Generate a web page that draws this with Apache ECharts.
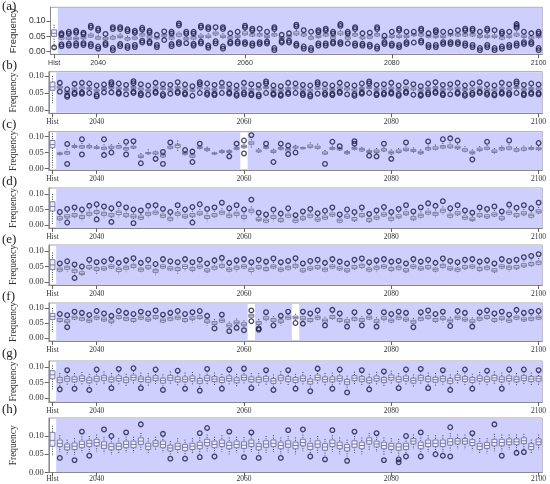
<!DOCTYPE html>
<html><head><meta charset="utf-8">
<script src="https://cdn.jsdelivr.net/npm/echarts@6/dist/echarts.min.js"></script>
<style>html,body{margin:0;padding:0;background:#fff}#c{width:550px;height:484px}</style>
</head><body><div id="c"></div>
<script>
// ---------- categories / ticks ----------
const years = [];
for (let y = 2035; y <= 2100; y++) years.push(String(y));
const categories = ['Hist'].concat(years);
const xTickLabels = ['Hist', '2040', '2060', '2080', '2100'];
const yTickValues = [0, 0.05, 0.10];
const panelLabels = ['(a)', '(b)', '(c)', '(d)', '(e)', '(f)', '(g)', '(h)'];

// ---------- data (thousandths): [lowWhisker, Q1, median, Q3, highWhisker] ----------
const statsA = [[5,50,60,71,88],
[37,41,45,48,52],[36,40,44,48,53],[35,39,43,47,52],[38,42,45,49,53],[43,48,52,57,62],
[36,41,45,49,55],[35,39,42,46,50],[36,41,45,50,55],[41,46,50,54,60],[34,38,42,46,52],
[37,41,45,48,54],[46,51,55,59,64],[40,44,48,52,57],[39,42,45,48,50],[45,49,52,56,59],
[37,41,45,49,54],[45,50,55,60,66],[35,39,42,46,52],[37,41,45,49,54],[42,46,50,54,60],
[41,46,50,54,60],[50,55,60,64,70],[41,46,50,54,60],[38,42,45,49,53],[42,46,50,54,58],
[50,55,60,65,71],[46,51,55,59,64],[46,51,55,59,64],[42,46,50,54,58],[46,51,55,59,65],
[39,42,45,48,50],[43,47,50,53,56],[50,55,60,65,71],[47,51,55,59,63],[37,41,45,49,54],
[42,46,50,54,59],[46,51,55,59,64],[37,41,45,49,54],[50,55,60,65,71],[37,41,45,49,54],
[46,51,55,59,64],[38,42,45,49,53],[40,44,48,52,56],[46,51,55,59,64],[39,42,45,47,49],
[42,46,50,54,58],[42,46,50,54,59],[42,46,50,54,58],[48,52,55,58,61],[46,51,55,59,64],
[43,47,50,53,56],[42,46,50,54,59],[42,46,50,54,58],[48,52,55,58,61],[47,51,55,59,63],
[46,51,55,59,64],[46,51,55,59,64],[42,46,50,54,58],[42,46,50,54,59],[42,46,50,54,59],
[37,41,45,49,54],[42,46,50,54,58],[46,51,55,60,66],[42,46,50,54,58],[38,42,45,49,53],
[42,46,50,54,58]];
const outA = [[14],
[60,55,18,24],[65,59,20,26],[68,62,20,27],[62,57,22,28],[85,79,18,25],
[75,69,10,17],[58,22,28],[80,74,5,12],[80,74,18,25],[73,67,12,19],
[68,62,15,22],[78,72,30,36],[68,62,28,33],[55,15,22],[66,38],
[65,59,18,25],[92,86,25,31],[65,59,28],[65,59,20,26],[85,79,27,33],
[80,74,13,20],[80,27,34],[80,74,10,17],[60,27,32],[65,27,33],
[85,79,25,31],[75,69,20,27],[75,25,31],[65,27,33],[80,74,5,12],
[55,30,35],[60,30,36],[88,82,20,26],[70,10,17],[65,5,12],
[70,64,20,27],[75,69,20,27],[65,59,27,32],[90,84,25,31],[65,59,27],
[80,74,20,27],[60,20,26],[62,17,23],[80,74,10,17],[52,25,31],
[65,20,26],[75,69,15,22],[65,25,31],[65,30],[75,69,30,36],
[60,15,22],[70,64,15,22],[65,25,31],[65,25,31],[70,25,31],
[75,69,20,27],[75,69,15,22],[65,5,12],[75,69,15,22],[70,5,12],
[65,59,10,17],[65,15,22],[90,84,78,20,27],[65,25,31],[60,25,31],
[65,59,5,12]];

const statsB = [[20,58,68,82,100],
[59,64,67,70,74],[45,49,52,55,57],[55,59,62,65,69],[58,62,65,68,72],[56,60,63,66,70],
[51,55,58,61,65],[56,60,63,66,70],[59,63,66,69,73],[57,61,64,67,71],[53,57,60,63,67],
[59,63,66,69,73],[55,59,62,65,69],[51,55,58,61,65],[58,62,65,68,72],[56,60,63,66,70],
[53,57,60,63,67],[59,63,66,69,73],[55,59,62,65,69],[51,55,58,61,65],[58,62,65,68,72],
[55,59,62,65,69],[53,57,60,63,67],[59,63,66,69,73],[56,60,63,66,70],[53,57,60,63,67],
[57,61,64,67,71],[53,57,60,63,67],[55,59,62,65,69],[59,63,66,69,73],[53,57,60,63,67],
[51,55,58,61,65],[56,60,63,66,70],[58,62,65,68,72],[54,58,61,64,68],[51,55,58,61,65],
[57,61,64,67,71],[55,59,62,65,69],[53,57,60,63,67],[58,62,65,68,72],[55,59,62,65,69],
[52,56,59,62,66],[56,60,63,66,70],[59,63,66,69,73],[53,57,60,63,67],[55,59,62,65,69],
[57,61,64,67,71],[53,57,60,63,67],[58,62,65,68,72],[55,59,62,65,69],[51,55,58,61,65],
[56,60,63,66,70],[59,63,66,69,73],[53,57,60,63,67],[55,59,62,65,69],[57,61,64,67,71],
[53,57,60,63,67],[55,59,62,65,69],[58,62,65,68,72],[54,58,61,64,68],[52,56,59,62,66],
[57,61,64,67,71],[55,59,62,65,69],[59,63,66,69,73],[53,57,60,63,67],[56,60,63,66,70],
[55,59,62,65,69]];
const outB = [[],
[80,54],[61,39,43],[77,47,51],[80,48,52],[78,50],
[72,40,45],[75,52],[82,76,52],[78,48,52],[74,46],
[85,79,50,54],[76,44,49],[72,45],[80,50,54],[76,42,47],
[74,48],[82,50,54],[75,46,50],[70,42],[82,76,50],
[78,45,50],[74,44,48],[80,50],[76,48,52],[72,42,47],
[80,46,51],[76,44,48],[74,40,45],[84,78,50],[72,45,49],
[70,42,46],[80,47,51],[78,50],[74,44,49],[72,40,45],
[82,76,48],[76,45,50],[72,44,48],[80,50,54],[75,46],
[72,42,47],[78,48,52],[84,78,50],[74,44,48],[76,46,50],
[80,48,52],[72,42,47],[82,50,54],[76,45],[70,42,46],
[78,46,51],[82,50,54],[74,44,48],[76,46],[80,48,52],
[72,42,47],[78,45,50],[82,50,54],[75,45,50],[72,43,47],
[80,48,52],[76,45,50],[84,78,50],[74,44,48],[78,47,51],
[75,46,50]];

const statsC = [[2,65,75,88,110],
[40,44,47,49,52],[38,45,49,53,62],[62,66,69,72,78],[60,64,68,72,80],[60,65,68,72,78],
[58,63,66,68,74],[50,60,64,67,76],[58,63,67,70,76],[58,64,68,72,80],[52,58,62,66,74],
[60,64,67,70,76],[28,34,38,42,48],[42,46,48,50,60],[40,45,48,52,56],[30,36,40,44,50],
[58,63,67,70,76],[55,66,72,76,88],[38,44,47,50,55],[30,35,39,43,48],[58,63,66,68,72],
[52,56,60,63,68],[42,45,47,49,52],[45,50,53,56,60],[45,50,53,56,60],[55,60,63,66,72],
[60,65,69,73,78],[66,76,80,84,92],[46,52,55,58,64],[60,63,66,69,72],[45,50,54,57,62],
[56,60,63,66,70],[50,55,59,62,66],[60,64,67,70,74],[60,62,64,66,68],[62,66,70,74,82],
[58,63,67,70,78],[40,45,48,52,58],[55,60,63,66,72],[55,58,61,64,68],[40,46,50,53,58],
[55,60,63,66,70],[50,55,59,63,68],[45,50,53,56,62],[46,50,54,58,64],[50,55,58,62,68],
[40,46,50,54,60],[45,50,54,58,64],[50,56,60,64,72],[48,53,57,60,66],[40,46,50,54,60],
[52,58,62,66,72],[55,60,64,68,75],[58,64,68,72,80],[60,65,70,74,82],[55,62,66,70,78],
[48,54,58,62,70],[40,46,50,54,60],[50,56,60,64,70],[55,60,64,67,74],[45,50,54,58,64],
[52,58,62,66,72],[55,60,64,68,76],[48,54,58,62,68],[52,57,61,65,72],[55,60,63,66,72],
[55,59,62,65,70]];
const outC = [[],
[],[77,14],[],[92,44],[],
[],[92,42],[50],[],[84,44],
[86],[16],[],[30],[52,14],
[82],[],[58],[53,20],[78],
[],[],[],[38],[78],
[88,47],[105],[],[78],[20],
[78],[72,45],[50],[],[],
[],[14],[84],[70],[],
[86,78],[],[40],[38],[78],
[30],[],[82],[],[],
[85],[],[92],[95],[88],
[],[28],[],[84],[],
[],[88],[],[],[],
[80]];

const statsD = [[2,45,60,75,100],
[8,17,22,27,34],[15,23,28,33,42],[19,27,32,37,46],[12,21,26,31,40],[22,31,36,41,50],
[27,37,42,47,57],[22,31,36,41,50],[17,27,32,37,46],[25,34,40,45,54],[19,27,32,37,47],
[15,23,28,33,40],[12,19,24,29,36],[22,31,36,41,50],[27,35,40,45,54],[17,25,30,35,44],
[7,15,20,25,32],[22,31,36,41,52],[15,23,28,33,42],[17,27,32,37,46],[25,33,38,43,52],
[12,21,26,31,40],[19,27,32,37,46],[27,35,40,45,54],[17,25,30,35,44],[22,31,36,41,50],
[12,21,26,31,38],[32,41,46,51,60],[7,14,18,23,30],[3,9,14,19,26],[12,21,26,31,38],
[5,11,16,21,28],[17,25,30,35,44],[3,9,14,19,26],[9,17,22,27,34],[17,25,30,35,42],
[5,13,18,23,30],[12,19,24,29,36],[22,29,34,39,47],[3,9,14,19,26],[15,23,28,33,40],
[7,14,19,24,32],[19,27,32,37,46],[5,11,16,21,28],[12,19,24,29,37],[22,29,34,39,48],
[7,15,20,25,32],[15,23,28,33,42],[25,33,38,43,52],[9,17,22,27,34],[17,25,30,35,44],
[27,35,40,45,54],[22,31,36,41,50],[32,41,46,51,60],[17,25,30,35,44],[25,33,38,43,52],
[12,19,24,29,37],[7,14,18,23,30],[19,27,32,37,46],[15,23,28,33,42],[22,29,34,39,48],
[9,17,22,27,34],[27,35,40,45,54],[19,27,32,37,46],[25,33,38,43,52],[17,25,30,35,44],
[32,39,44,49,58]];
const outD = [[],
[42],[52,8],[57],[50],[62],
[67,18],[60],[54,10],[67],[57],
[50,6],[47],[62],[64],[52],
[42],[64],[50],[58,8],[67],
[52],[57],[72],[54],[64],
[50],[82],[40],[34],[50],
[37],[54],[32],[44],[52],
[38],[46],[57],[34],[50],
[42],[57],[36],[47],[58],
[42],[52],[64],[44],[57],
[70],[62],[77],[54],[64],
[47],[40],[57],[52],[60],
[44],[66],[56],[64],[54],
[72]];

const statsE = [[0,40,55,72,95],
[27,35,40,45,53],[32,41,46,51,61],[22,31,36,41,49],[17,24,28,33,41],[35,43,48,53,63],
[27,37,42,47,57],[32,39,44,49,59],[37,45,50,55,65],[25,34,40,45,55],[32,41,46,51,61],
[39,47,52,57,67],[27,35,40,45,55],[35,43,48,53,63],[22,31,36,41,51],[37,45,50,55,65],
[32,39,44,49,59],[27,37,42,47,57],[35,44,50,55,65],[29,37,42,47,57],[37,45,50,55,63],
[25,33,38,43,53],[33,41,46,51,61],[39,47,52,57,67],[27,35,40,45,55],[32,41,46,51,61],
[37,45,50,55,65],[25,34,40,45,55],[35,43,48,53,63],[29,37,42,47,57],[37,45,50,55,65],
[27,35,40,45,55],[33,41,46,51,61],[39,47,52,57,67],[25,33,38,43,53],[32,39,44,49,59],
[35,43,48,53,63],[27,35,40,45,55],[37,45,50,55,65],[31,39,44,49,59],[25,33,38,43,53],
[35,43,48,53,63],[39,47,52,57,67],[27,35,40,45,55],[32,41,46,51,61],[37,45,50,55,65],
[29,37,42,47,57],[33,41,46,51,61],[25,33,38,43,53],[37,45,50,55,65],[31,39,44,49,59],
[35,43,48,53,63],[27,35,40,45,55],[39,47,52,57,67],[32,39,44,49,59],[27,35,40,45,55],
[35,43,48,53,63],[37,45,50,55,65],[29,37,42,47,57],[33,41,46,51,61],[25,33,38,43,53],
[37,45,50,55,65],[32,41,46,51,61],[35,43,48,53,63],[41,49,54,59,69],[45,53,58,63,73],
[49,57,62,67,77]];
const outE = [[],
[60],[67],[57,13],[50],[72],
[64],[67],[74],[62],[70],
[77],[62],[72],[58],[74],
[67],[64],[74],[64],[72],
[60],[70],[78],[62],[70],
[74],[64],[72],[66],[76],
[64],[68],[77],[60],[68],
[72],[62],[74],[66],[60],
[72],[76],[64],[70],[74],
[66],[68],[60],[74],[66],
[72],[62],[76],[68],[64],
[72],[74],[66],[70],[60],
[74],[68],[72],[80],[84],
[90]];

const statsF = [[20,62,72,82,100],
[47,55,60,65,73],[42,51,56,61,69],[55,63,68,73,81],[52,59,64,69,77],[45,53,58,63,71],
[55,63,68,73,83],[49,57,62,67,75],[42,51,56,61,69],[57,65,70,75,83],[52,59,64,69,77],
[47,55,60,65,73],[55,63,68,73,81],[49,57,62,67,75],[57,65,70,75,85],[45,53,58,63,71],
[52,59,64,69,77],[55,63,68,73,81],[47,55,60,65,73],[52,61,66,71,79],[57,65,70,75,83],
[42,51,56,61,69],[37,45,50,55,63],[45,53,58,63,71],[27,37,42,47,55],[39,47,52,57,65],
[32,41,46,51,59],[62,69,74,79,87],[37,45,50,55,63],[52,61,66,71,79],[47,55,60,65,73],
[42,51,56,61,69],[55,63,68,73,81],[57,64,68,73,81],[52,61,66,71,81],[47,55,60,65,73],
[55,63,68,73,83],[45,53,58,63,71],[57,65,70,75,85],[47,55,60,65,73],[42,51,56,61,69],
[52,59,64,69,77],[47,55,60,65,73],[55,63,68,73,81],[42,51,56,61,69],[52,61,66,71,79],
[45,53,58,63,71],[55,63,68,73,81],[49,57,62,67,75],[42,49,54,59,67],[52,59,64,69,77],
[57,65,70,75,83],[47,55,60,65,73],[52,61,66,71,79],[45,53,58,63,71],[55,63,68,73,81],
[49,57,62,67,75],[42,51,56,61,69],[52,59,64,69,77],[57,65,70,75,83],[47,55,60,65,73],
[52,61,66,71,79],[45,53,58,63,71],[55,63,68,73,83],[49,57,62,67,75],[52,59,64,69,77],
[55,63,68,73,81]];
const outF = [[],
[80],[76,36],[88],[84],[77],
[90],[82],[74],[90],[84],
[80],[88],[82],[92],[78],
[84],[90],[80],[86],[90],
[74],[32],[78],[23],[34],
[26],[92,56],[32,28],[86],[42],
[74],[88],[50],[88,48],[82],
[92],[42],[94],[82],[38],
[86],[42],[88],[38],[86],
[80],[88],[84],[36],[86],
[92],[80],[88],[40],[90],
[84],[38],[86],[92],[82],
[88],[78],[94],[84],[88],
[90]];

const statsG = [[25,62,75,88,105],
[36,50,58,66,80],[42,54,62,69,82],[38,52,60,68,80],[44,55,63,71,84],[35,49,57,65,78],
[40,54,62,70,84],[45,57,65,72,86],[40,52,60,67,80],[42,55,63,71,85],[38,50,58,66,78],
[46,58,66,74,88],[40,53,61,68,82],[38,51,59,67,80],[44,56,64,72,85],[34,48,56,64,76],
[44,57,65,73,86],[40,52,60,68,80],[38,52,60,68,82],[42,55,63,71,84],[34,47,55,63,76],
[44,56,64,72,86],[40,53,61,69,82],[38,50,58,66,78],[42,55,63,71,84],[36,49,57,65,78],
[45,58,66,74,88],[40,52,60,68,80],[38,51,59,67,80],[42,54,62,70,82],[34,47,55,63,76],
[44,57,65,73,86],[40,53,61,69,82],[38,50,58,66,78],[42,55,63,71,84],[32,45,53,61,74],
[46,58,66,74,88],[40,52,60,68,80],[38,52,60,68,82],[42,55,63,71,84],[30,44,52,60,72],
[44,56,64,72,85],[40,53,61,69,82],[36,49,57,65,78],[42,55,63,71,84],[38,50,58,66,78],
[46,58,66,74,88],[40,52,60,68,80],[42,55,63,71,84],[35,48,56,64,76],[44,57,65,73,86],
[40,53,61,69,82],[38,51,59,67,80],[42,54,62,70,82],[34,47,55,63,76],[46,58,66,74,88],
[40,53,61,69,82],[38,50,58,66,78],[42,55,63,71,84],[40,52,60,68,80],[44,57,65,73,86],
[38,52,60,68,82],[42,55,63,71,84],[40,52,60,68,80],[44,56,64,72,85],[40,53,61,69,82],
[42,54,62,70,82]];
const outG = [[],
[28],[90],[30],[],[26],
[92],[],[32],[94],[],
[96],[32],[],[92],[26],
[],[88],[30],[],[24],
[94],[],[30],[92],[],
[95],[32],[],[90],[26],
[],[90],[30],[],[22],
[95],[],[30],[92],[18],
[],[90],[28],[],[86],
[],[32],[92],[],[94],
[32],[],[90],[26],[],
[92],[30],[],[88],[],
[30],[92],[],[92],[],
[90]];

const statsH = [[45,72,88,110,128],
[56,71,80,89,102],[48,62,70,78,90],[48,63,72,81,94],[54,68,77,86,99],[56,71,80,88,100],
[58,73,82,91,104],[52,66,75,84,97],[48,62,71,79,92],[50,63,72,80,94],[54,68,77,86,98],
[54,68,77,86,98],[62,77,86,95,108],[50,63,72,80,94],[60,72,80,87,98],[54,68,77,86,98],
[46,59,67,75,86],[50,63,72,80,94],[46,60,69,77,90],[50,63,72,80,94],[50,65,74,83,96],
[58,73,82,91,104],[54,68,77,86,98],[56,71,80,89,102],[50,65,74,83,96],[54,68,77,86,98],
[52,66,75,84,97],[56,71,80,89,102],[48,62,71,79,92],[54,69,78,87,100],[56,71,80,89,102],
[50,65,74,83,96],[54,69,78,87,100],[50,65,74,83,96],[58,73,82,91,104],[50,63,72,80,94],
[54,69,78,87,100],[46,61,70,79,92],[56,71,80,89,102],[50,65,74,83,96],[44,59,68,77,90],
[54,69,78,87,100],[50,65,74,83,96],[62,78,87,95,108],[56,70,78,86,98],[48,65,74,83,96],
[50,63,72,80,94],[46,61,70,79,92],[50,63,72,80,94],[64,78,86,93,104],[50,65,74,83,96],
[56,71,80,89,102],[56,71,80,89,102],[56,71,80,89,102],[60,75,84,93,108],[64,78,86,93,104],
[64,78,86,93,104],[60,74,82,90,100],[50,63,72,80,94],[52,66,74,82,94],[58,73,82,91,106],
[58,73,82,91,104],[62,76,84,92,104],[62,76,84,92,104],[64,79,87,95,106],[50,63,71,79,90],
[62,76,84,92,104]];
const outH = [[],
[40],[],[34],[112],[46],
[],[118],[100],[],[110],
[],[132],[],[],[106],
[38],[],[38],[],[108,42],
[122],[44],[],[112],[],
[42],[110],[40],[],[],
[40],[116],[],[118],[44],
[],[36],[116],[],[32],
[112],[],[],[108],[34],
[],[36,28],[100,44],[],[110,44],
[],[50],[46],[124,44],[],
[],[108],[],[],[132],
[46],[],[54],[56],[],
[]];

const allStats = [statsA, statsB, statsC, statsD, statsE, statsF, statsG, statsH];
const allOuts = [outA, outB, outC, outD, outE, outF, outG, outH];
// years left unshaded (white) in each panel
const whiteYears = [[], [], ['2060'], [], [], ['2061', '2067'], [], []];

// ---------- layout (pixels) ----------
const GRID_LEFT = 34.3, GRID_W = 508;
const layout = [
  {top: 7.3, bottom: 54.3, y0: 51.7, y10: 21, lm: 5, lt: 0},
  {top: 71.7, bottom: 113.3, y0: 110, y10: 76, lm: 5, lt: 59},
  {top: 131.7, bottom: 170, y0: 168.3, y10: 136.7, lm: 5, lt: 118},
  {top: 188, bottom: 228, y0: 225, y10: 194, lm: 5, lt: 175},
  {top: 245, bottom: 285, y0: 282, y10: 251, lm: 5, lt: 233},
  {top: 303, bottom: 341, y0: 338, y10: 308, lm: 5, lt: 290},
  {top: 361, bottom: 402, y0: 398, y10: 367, lm: 5, lt: 347},
  {top: 418, bottom: 472.5, y0: 472.5, y10: 436, lm: 3, lt: 403}
];

const BG = '#cfcffd', BOX_STROKE = '#7b7ba6', BOX_FILL = '#ededfc', WHISK = '#3a3a5a', OUT = '#1c1c46';

const grids = [], xAxes = [], yAxes = [], series = [], graphics = [];
allStats.forEach((stats, i) => {
  const L = layout[i];
  const pxPer = (L.y0 - L.y10) / 0.1;
  const yMax = (L.y0 - L.top) / pxPer;
  const yMin = (L.y0 - L.bottom) / pxPer;
  const fam = i === 0 ? 'Liberation Sans' : 'Liberation Serif';
  grids.push({left: GRID_LEFT, width: GRID_W, top: L.top, height: L.bottom - L.top,
    show: true, borderColor: '#a4a4a4', borderWidth: 1, backgroundColor: 'transparent'});
  xAxes.push({type: 'category', gridIndex: i, data: categories, boundaryGap: true,
    axisLine: {show: true, onZero: false, lineStyle: {color: '#8a8a8a', width: 1}},
    axisTick: {show: true, interval: (idx, v) => xTickLabels.includes(v), alignWithLabel: true, length: 4, lineStyle: {color: '#666'}},
    axisLabel: {show: true, interval: (idx, v) => xTickLabels.includes(v), fontSize: i === 0 ? 7 : 7.5, fontFamily: fam, color: '#333', margin: L.lm},
    splitLine: {show: false}});
  yAxes.push({type: 'value', gridIndex: i, min: yMin, max: yMax,
    name: 'Frequency', nameLocation: 'middle', nameGap: 22,
    nameTextStyle: {fontSize: 9.5, fontFamily: fam, color: '#333'},
    axisLine: {show: true, lineStyle: {color: '#8a8a8a', width: 1}},
    axisTick: {show: true, customValues: yTickValues, length: 4, lineStyle: {color: '#666'}},
    axisLabel: {show: true, customValues: yTickValues, formatter: v => v.toFixed(2), fontSize: 8.5, fontFamily: fam, color: '#333', margin: 5},
    splitLine: {show: false}});

  // shaded runs of years
  const runs = [];
  let start = null;
  categories.forEach((c, idx) => {
    const shaded = c !== 'Hist' && !whiteYears[i].includes(c);
    if (shaded && start === null) start = idx;
    if (!shaded && start !== null) { runs.push([start, idx - 1, 0]); start = null; }
  });
  if (start !== null) runs.push([start, categories.length - 1, 0]);
  series.push({type: 'custom', xAxisIndex: i, yAxisIndex: i, silent: true, clip: false, z: 0,
    data: runs, encode: {x: [0, 1], y: 2},
    renderItem: (params, api) => {
      const cs = params.coordSys;
      const s = api.coord([api.value(0), 0])[0];
      const e = api.coord([api.value(1), 0])[0];
      const bw = api.size([1, 0])[0];
      return {type: 'rect', shape: {x: s - bw / 2, y: cs.y + 0.5, width: e - s + bw, height: cs.height - 1},
        style: {fill: BG}};
    }});

  // boxes
  const rows = stats.map((s, idx) => [idx, s[0] / 1000, s[1] / 1000, s[2] / 1000, s[3] / 1000, s[4] / 1000]);
  series.push({type: 'custom', xAxisIndex: i, yAxisIndex: i, silent: true, clip: false, z: 2,
    data: rows, encode: {x: 0, y: [1, 2, 3, 4, 5]},
    renderItem: (params, api) => {
      const idx = api.value(0);
      const x = api.coord([idx, api.value(3)])[0];
      const y = k => api.coord([idx, api.value(k)])[1];
      const w = 5;
      const yLo = y(1), yQ1 = y(2), yMed = y(3), yQ3 = y(4), yHi = y(5);
      return {type: 'group', children: [
        {type: 'line', shape: {x1: x, y1: yHi, x2: x, y2: yQ3}, style: {stroke: WHISK, lineWidth: 1, lineDash: [1, 1.4]}},
        {type: 'line', shape: {x1: x, y1: yQ1, x2: x, y2: yLo}, style: {stroke: WHISK, lineWidth: 1, lineDash: [1, 1.4]}},
        {type: 'rect', shape: {x: x - w / 2, y: yQ3, width: w, height: Math.max(yQ1 - yQ3, 1)}, style: {fill: BOX_FILL, stroke: BOX_STROKE, lineWidth: 1}},
        {type: 'line', shape: {x1: x - w / 2, y1: yMed, x2: x + w / 2, y2: yMed}, style: {stroke: BOX_STROKE, lineWidth: 1}}
      ]};
    }});

  // outliers
  const pts = [];
  allOuts[i].forEach((list, idx) => list.forEach(v => pts.push([idx, v / 1000])));
  series.push({type: 'scatter', xAxisIndex: i, yAxisIndex: i, silent: true, z: 3,
    data: pts, symbol: 'circle', symbolSize: 4.6,
    itemStyle: {color: 'rgba(0,0,0,0)', borderColor: OUT, borderWidth: 1.3}});

  graphics.push({type: 'text', left: 2, top: L.lt,
    style: {text: panelLabels[i], font: '13px "Liberation Serif"', fill: '#222'}});
});

const chart = echarts.init(document.getElementById('c'), null, {renderer: 'canvas', width: 550, height: 484});
chart.setOption({
  animation: false,
  grid: grids, xAxis: xAxes, yAxis: yAxes, series: series, graphic: graphics
});
</script>
</body></html>
